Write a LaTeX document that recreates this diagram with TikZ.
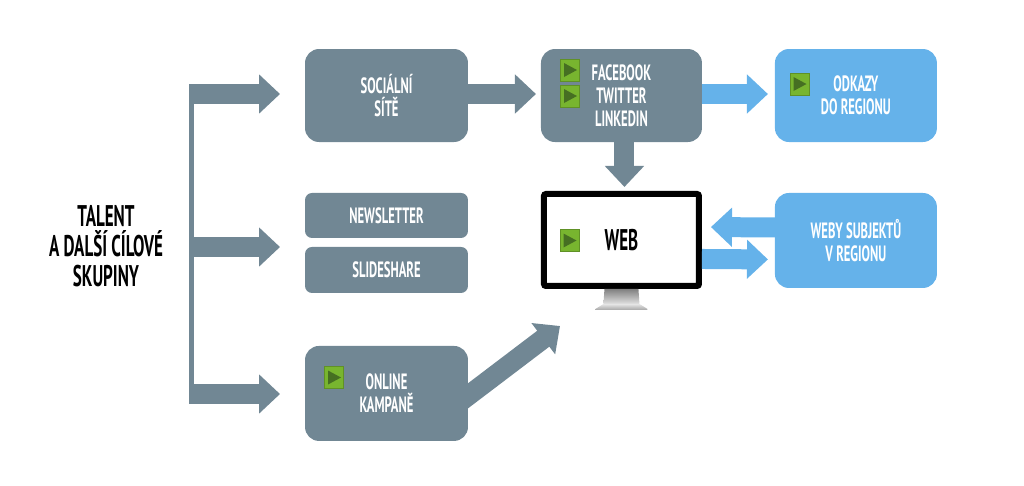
\documentclass[tikz,border=0pt]{standalone}
\usepackage{fontspec}
\setmainfont{PT Sans}
\usepackage{graphicx}
\usetikzlibrary{positioning, arrows.meta, backgrounds}

\definecolor{boxgrey}{HTML}{718794}
\definecolor{boxblue}{HTML}{65B2EA}
\definecolor{iconlime}{HTML}{78B52F}
\definecolor{icondark}{HTML}{466F22}

\newcommand{\narrowtext}[1]{\scalebox{.57}[1]{#1}}

\tikzset{
	box/.style={fill=boxgrey, rounded corners=.28cm, minimum width=3.26cm, minimum height=1.86cm,
		outer sep=0pt, inner sep=0pt, text=white, align=center,
		font=\fontsize{12.6}{13.1}\selectfont\bfseries},
	smallbox/.style={box, rounded corners=.14cm, minimum height=.9cm},
	bluebox/.style={box, fill=boxblue},
	fatarrow/.style={draw=boxgrey, line width=.4cm, -{Triangle[width=.76cm, length=.42cm]}},
	bluearrow/.style={fatarrow, draw=boxblue},
	playicon/.style={draw=iconlime!80!black, fill=iconlime, line width=.4pt, minimum width=.38cm, minimum height=.44cm,
		inner sep=0pt, path picture={
			\fill[icondark] ([xshift=.07cm,yshift=-.08cm]path picture bounding box.north west)
				-- ([xshift=-.05cm]path picture bounding box.east)
				-- ([xshift=.07cm,yshift=.08cm]path picture bounding box.south west) -- cycle;}},
}

\begin{document}
\begin{tikzpicture}[x=.02cm, y=-.02cm]
	\useasboundingbox (0,0) rectangle (1024,485);

	\node[box] (socialni) at (386.5,95.5) {\narrowtext{SOCIÁLNÍ}\\\narrowtext{SÍTĚ}};
	\node[box, right = 1.46cm of socialni, minimum width=3.22cm] (feeds) {\narrowtext{FACEBOOK}\\\narrowtext{TWITTER}\\\narrowtext{LINKEDIN}};
	\node[bluebox, right = 1.46cm of feeds, minimum width=3.24cm] (odkazy) {\narrowtext{ODKAZY}\\\narrowtext{DO REGIONU}};
	\node[smallbox, below = 1.02cm of socialni] (newsletter) {\narrowtext{NEWSLETTER}};
	\node[smallbox, below = .18cm of newsletter, minimum height=.92cm] (slideshare) {\narrowtext{SLIDESHARE}};
	\node[box, below = 1.06cm of slideshare, minimum height=1.9cm] (online) {\narrowtext{ONLINE}\\\narrowtext{KAMPANĚ}};
	\node[bluebox, below = 1.02cm of odkazy, minimum width=3.24cm, minimum height=1.9cm] (weby) {\narrowtext{WEBY SUBJEKTŮ}\\\narrowtext{V REGIONU}};
	\node[draw=black, fill=white, line width=.12cm, rounded corners=.04cm, minimum width=3.1cm, minimum height=1.84cm,
		below = .98cm of feeds, font=\fontsize{17}{17}\selectfont\bfseries] (monitor) {\narrowtext{WEB}};
	\node[align=center, font=\fontsize{17}{17}\selectfont\bfseries] (talent) at (106,246) {\narrowtext{TALENT}\\\narrowtext{A DALŠÍ CÍLOVÉ}\\\narrowtext{SKUPINY}};

	% monitor stand
	\begin{scope}[shift={(monitor.south)}]
		\shade[top color=black!50, bottom color=black!12] (-17,0) -- (17,0) -- (18,15) -- (-18,15) -- cycle;
		\shade[top color=black!10, bottom color=black!35] (-18,15) -- (18,15) -- (26,20) -- (26,21) -- (-26,21) -- (-26,20) -- cycle;
	\end{scope}

	\node[playicon] (iconfb) at (570,70) {};
	\node[playicon] (icontw) at (570,96) {};
	\node[playicon] (iconod) at (799.5,84) {};
	\node[playicon] (iconweb) at (569.5,240.5) {};
	\node[playicon] (iconon) at (334,377.5) {};

	% trunk on the left and its three branches
	\coordinate (trunktop) at (191.5,84);
	\coordinate (trunkbottom) at (191.5,404);
	\coordinate (branch1) at (189,94);
	\coordinate (branch2) at (189,247);
	\coordinate (branch3) at (189,394);
	\coordinate (lists) at (305,247);
	\coordinate (onlinefoot) at (448,411);
	\coordinate (onlinetip) at (560,326);

	\draw[boxgrey, line width=.1cm] (trunktop) -- (trunkbottom);
	\draw[fatarrow, shorten >=.5cm] (branch1) -- (branch1 -| socialni.west);
	\draw[fatarrow, shorten >=.5cm] (branch2) -- (lists);
	\draw[fatarrow, shorten >=.5cm] (branch3) -- (branch3 -| online.west);

	\draw[fatarrow, shorten >=.1cm] ([yshift=.03cm]socialni.east) -- ([yshift=.03cm]feeds.west);
	\draw[bluearrow, shorten >=.14cm] ([yshift=.03cm]feeds.east) -- ([yshift=.03cm]odkazy.west);
	\draw[fatarrow, shorten >=.08cm] ([xshift=.06cm]feeds.south) -- ([xshift=.06cm]monitor.north);
	\draw[bluearrow, shorten >=.18cm] ([yshift=.26cm]weby.west) -- ([yshift=.26cm]monitor.east);
	\draw[bluearrow, shorten >=.14cm] ([yshift=-.38cm]monitor.east) -- ([yshift=-.38cm]weby.west);
	\begin{scope}[on background layer]
		\draw[fatarrow] (onlinefoot) -- (onlinetip);
	\end{scope}
\end{tikzpicture}
\end{document}
